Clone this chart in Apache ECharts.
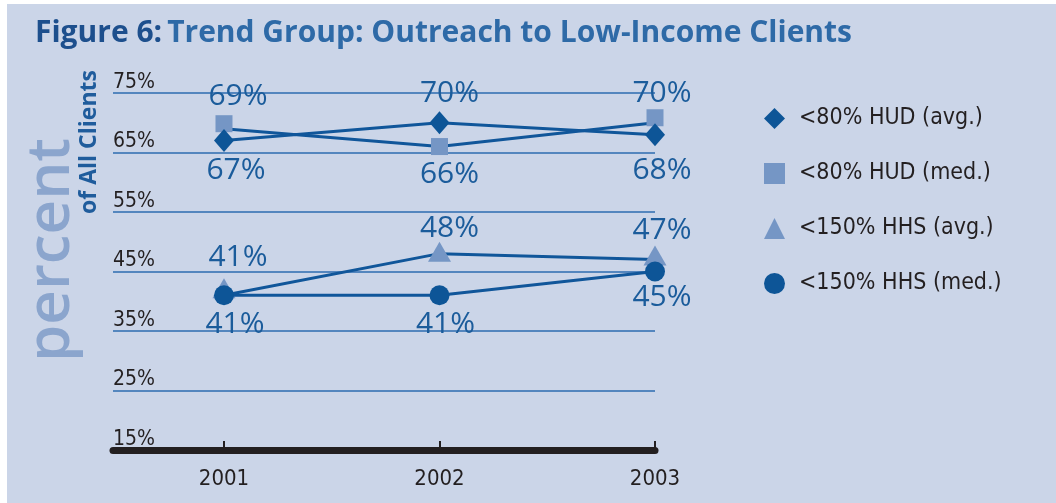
<!DOCTYPE html>
<html>
<head>
<meta charset="utf-8">
<script src="https://cdn.jsdelivr.net/npm/echarts@6/dist/echarts.min.js"></script>
<style>
html,body{margin:0;padding:0;background:#ffffff;}
#chart{width:1056px;height:503px;}
</style>
</head>
<body>
<div id="chart"></div>
<script>
// ---- data ----
const years = [2001, 2002, 2003];
const seriesNames = ['<80% HUD (avg.)', '<80% HUD (med.)', '<150% HHS (avg.)', '<150% HHS (med.)'];
const hudAvg = [67, 70, 68];
const hudMed = [69, 66, 70];
const hhsAvg = [41, 48, 47];
const hhsMed = [41, 41, 45];
const yMin = 15, yMax = 75, yStep = 10;

// ---- label / marker placement (style only) ----
const hudAvgLabelOffset = [[12, 30], [10, -29], [7, 36]];
const hudMedLabelOffset = [[14, -32], [10, 28], [7, -29]];
const hhsAvgLabelOffset = [[14, -38], [10, -25], [7, -29]];
const hhsMedLabelOffset = [[11, 29], [6, 29], [7, 26]];
const noShift = [[0, 0], [0, 0], [0, 0]];
const hudMedSymbolShift = [[0, -5], [0, 0], [0, -5]];
const hhsAvgSymbolShift = [[0, -7], [0, -2], [0, -4]];

const DARK = '#0d5597';
const LIGHT = '#7596c5';
const LINE = '#10569a';
const LABEL = '#1b5c9b';
const NARROW = "'Liberation Sans Narrow','DejaVu Sans Condensed','Liberation Sans',sans-serif";

function build(values, offsets, shifts) {
  return values.map(function (v, i) {
    return {
      value: [years[i], v],
      symbolOffset: shifts[i],
      label: { offset: [offsets[i][0], offsets[i][1] - shifts[i][1]] }
    };
  });
}

function makeSeries(name, values, offsets, shifts, symbol, size, color, z) {
  return {
    name: name,
    type: 'line',
    data: build(values, offsets, shifts),
    symbol: symbol,
    symbolSize: size,
    showAllSymbol: true,
    z: z,
    lineStyle: { color: LINE, width: 3 },
    itemStyle: { color: color },
    label: {
      show: true,
      position: 'inside',
      formatter: function (p) { return p.value[1] + '%'; },
      fontFamily: "'Open Sans',sans-serif",
      fontSize: 30,
      color: LABEL
    },
    emphasis: { disabled: true },
    animation: false
  };
}

const chart = echarts.init(document.getElementById('chart'));
chart.setOption({
  backgroundColor: '#ffffff',
  animation: false,
  title: {
    text: '{a|Figure 6:} {b|Trend Group: Outreach to Low-Income Clients}',
    left: 30,
    top: 13,
    textStyle: {
      rich: {
        a: { fontFamily: "'Open Sans',sans-serif", fontWeight: 'bold', fontSize: 30, color: '#1d4f8d' },
        b: { fontFamily: "'Open Sans',sans-serif", fontWeight: 'bold', fontSize: 30, color: '#2e6aa7' }
      }
    }
  },
  graphic: [
    { type: 'rect', z: -10, shape: { x: 7, y: 4, width: 1049, height: 499 }, style: { fill: '#cbd5e8' } },
    { type: 'text', x: 52, y: 250, rotation: Math.PI / 2,
      style: { text: 'percent', fontFamily: "'Open Sans',sans-serif", fontWeight: 600, fontSize: 60, fill: '#8ba5cd', align: 'center', verticalAlign: 'middle' } },
    { type: 'text', x: 89, y: 142, rotation: Math.PI / 2,
      style: { text: 'of All Clients', fontFamily: "'Open Sans',sans-serif", fontWeight: 'bold', fontSize: 23, fill: '#1f5c9c', align: 'center', verticalAlign: 'middle' } }
  ],
  legend: {
    orient: 'vertical',
    left: 759,
    top: 102,
    itemWidth: 21,
    itemHeight: 21,
    itemGap: 32,
    selectedMode: false,
    textStyle: { fontFamily: NARROW, fontSize: 23, color: '#231f20', padding: [0, 0, 0, 9] },
    data: [
      { name: seriesNames[0], icon: 'diamond' },
      { name: seriesNames[1], icon: 'rect' },
      { name: seriesNames[2], icon: 'triangle' },
      { name: seriesNames[3], icon: 'circle' }
    ]
  },
  grid: { left: 113, top: 93, width: 542, height: 357, containLabel: false },
  xAxis: {
    type: 'value',
    min: 2000.485,
    max: 2003,
    axisLine: { show: true, lineStyle: { color: '#231f20', width: 7 } },
    axisTick: { show: true, inside: true, length: 9, lineStyle: { color: '#231f20', width: 2 }, customValues: years },
    axisLabel: { show: true, margin: 18, fontFamily: NARROW, fontSize: 22, color: '#231f20', customValues: years,
      formatter: function (v) { return String(v); } },
    splitLine: { show: false }
  },
  yAxis: {
    type: 'value',
    min: yMin,
    max: yMax,
    interval: yStep,
    axisLine: { show: false },
    axisTick: { show: false },
    axisLabel: { align: 'left', verticalAlign: 'bottom', margin: 0, fontFamily: NARROW, fontSize: 21, color: '#231f20',
      formatter: function (v) { return v + '%'; } },
    splitLine: { show: true, lineStyle: { color: '#2c6bb0', width: 1.5 } }
  },
  series: [
    makeSeries(seriesNames[1], hudMed, hudMedLabelOffset, hudMedSymbolShift, 'rect', 17, LIGHT, 2),
    makeSeries(seriesNames[0], hudAvg, hudAvgLabelOffset, noShift, 'diamond', [20, 23], DARK, 3),
    makeSeries(seriesNames[2], hhsAvg, hhsAvgLabelOffset, hhsAvgSymbolShift, 'triangle', [23, 20], LIGHT, 2),
    makeSeries(seriesNames[3], hhsMed, hhsMedLabelOffset, noShift, 'circle', 20, DARK, 3)
  ]
});
</script>
</body>
</html>
